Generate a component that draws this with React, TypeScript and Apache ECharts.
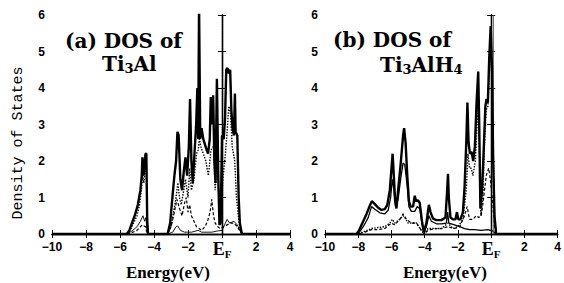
import React, { useEffect, useRef } from "react";
import * as echarts from "echarts";

// ---------- data ----------
const xTicks = [-10, -8, -6, -4, -2, 0, 2, 4];
const yTicks = [0, 1, 2, 3, 4, 5, 6];
const titleA = ["(a) DOS of", "Ti{s|3}Al"];
const titleB = ["(b) DOS of", "Ti{s|3}AlH{s|4}"];
const fermiA = 0;
const fermiB = 0.1;

// (a) Ti3Al
const aTotal: number[][] = [
  [-10, 0], [-5.6, 0], [-5.45, 0.1], [-5.3, 0.3], [-5.1, 0.55], [-4.95, 0.8], [-4.8, 1.2], [-4.72, 1.6],
  [-4.68, 2.1], [-4.62, 1.6], [-4.55, 1.9], [-4.5, 2.2], [-4.45, 2.2], [-4.4, 0.4], [-4.35, 0],
  [-3.2, 0], [-3.05, 0.3], [-2.9, 1.1], [-2.8, 1.6], [-2.7, 2.0], [-2.62, 2.8], [-2.55, 2.7], [-2.45, 1.5],
  [-2.35, 1.2], [-2.25, 1.7], [-2.15, 2.1], [-2.05, 1.6], [-1.95, 2.4], [-1.88, 3.7], [-1.8, 2.0],
  [-1.72, 1.4], [-1.62, 2.2], [-1.52, 3.0], [-1.45, 4.0], [-1.4, 2.6], [-1.35, 6.3], [-1.28, 2.6],
  [-1.2, 2.9], [-1.1, 2.6], [-1.0, 2.45], [-0.9, 2.3], [-0.82, 2.2], [-0.72, 2.6], [-0.66, 3.75],
  [-0.6, 3.0], [-0.52, 3.8], [-0.45, 2.0], [-0.38, 1.4], [-0.3, 4.25], [-0.22, 1.6], [-0.15, 0.25],
  [-0.08, 0.3], [0.0, 2.7], [0.1, 2.6], [0.18, 3.2], [0.25, 4.5], [0.32, 4.55], [0.4, 4.4], [0.48, 4.5],
  [0.55, 3.4], [0.62, 2.9], [0.7, 2.7], [0.76, 3.85], [0.8, 2.8], [0.9, 2.7], [0.98, 1.0], [1.05, 0.3],
  [1.15, 0.05], [1.2, 0], [4, 0],
];
const aDotted: number[][] = [
  [-10, 0], [-5.6, 0], [-5.4, 0.1], [-5.2, 0.3], [-5.0, 0.5], [-4.85, 0.8], [-4.72, 1.3], [-4.68, 1.7],
  [-4.6, 1.4], [-4.5, 1.8], [-4.45, 1.8], [-4.4, 0.3], [-4.35, 0],
  [-3.2, 0], [-3.0, 0.2], [-2.85, 0.6], [-2.7, 1.0], [-2.6, 1.4], [-2.5, 1.0], [-2.4, 0.8], [-2.25, 1.2],
  [-2.15, 1.5], [-2.0, 1.0], [-1.9, 1.8], [-1.8, 1.2], [-1.65, 1.5], [-1.5, 2.2], [-1.4, 2.3],
  [-1.33, 2.6], [-1.25, 2.4], [-1.1, 2.2], [-0.95, 2.0], [-0.8, 1.6], [-0.65, 2.3], [-0.5, 2.4],
  [-0.4, 1.2], [-0.3, 2.0], [-0.2, 1.2], [-0.1, 0.3], [0.05, 1.5], [0.2, 2.2], [0.3, 2.8], [0.4, 3.5],
  [0.5, 3.3], [0.6, 2.4], [0.75, 2.0], [0.85, 1.0], [1.0, 0.3], [1.15, 0], [4, 0],
];
const aDashed: number[][] = [
  [-10, 0], [-5.5, 0], [-5.0, 0.1], [-4.7, 0.25], [-4.5, 0.2], [-4.4, 0],
  [-3.2, 0], [-3.0, 0.2], [-2.8, 0.6], [-2.65, 0.95], [-2.5, 0.7], [-2.35, 0.5], [-2.2, 0.85], [-2.1, 1.0],
  [-2.0, 0.6], [-1.9, 0.8], [-1.8, 0.5], [-1.65, 0.35], [-1.5, 0.2], [-1.35, 0.15], [-1.2, 0.1],
  [-1.0, 0.2], [-0.85, 0.35], [-0.7, 0.6], [-0.6, 0.95], [-0.5, 0.5], [-0.4, 0.3], [-0.25, 0.2],
  [-0.1, 0.15], [0.1, 0.2], [0.3, 0.25], [0.5, 0.3], [0.7, 0.3], [0.9, 0.2], [1.1, 0.05], [1.2, 0], [4, 0],
];
const aThin: number[][] = [
  [-10, 0], [-5.6, 0], [-5.3, 0.08], [-5.0, 0.2], [-4.8, 0.35], [-4.65, 0.5], [-4.55, 0.35], [-4.48, 0.45],
  [-4.4, 0.05], [-4.35, 0],
  [-3.2, 0], [-2.9, 0.05], [-2.7, 0.2], [-2.6, 0.22], [-2.45, 0.1], [-2.2, 0.05], [-1.8, 0.05], [-1.4, 0.1],
  [-1.2, 0.05], [-0.6, 0.05], [-0.3, 0.08], [0.0, 0.1], [0.2, 0.3], [0.3, 0.4], [0.45, 0.3], [0.7, 0.35],
  [0.9, 0.25], [1.1, 0.05], [1.2, 0], [4, 0],
];

// (b) Ti3AlH4
const bTotal: number[][] = [
  [-10, 0], [-8.1, 0], [-7.95, 0.1], [-7.75, 0.3], [-7.5, 0.55], [-7.3, 0.78], [-7.18, 0.9], [-7.0, 0.82],
  [-6.8, 0.72], [-6.6, 0.66], [-6.4, 0.68], [-6.25, 0.8], [-6.1, 1.2], [-6.0, 1.8], [-5.93, 2.2],
  [-5.86, 1.6], [-5.78, 0.9], [-5.7, 0.7], [-5.6, 1.2], [-5.45, 1.9], [-5.3, 2.7], [-5.24, 2.9],
  [-5.15, 2.5], [-5.05, 1.6], [-4.95, 0.9], [-4.85, 0.75], [-4.7, 0.75], [-4.6, 1.05], [-4.52, 0.9],
  [-4.4, 0.92], [-4.3, 0.85], [-4.15, 0.3], [-4.05, 0.05], [-3.9, 0.3], [-3.75, 0.8], [-3.65, 0.6],
  [-3.5, 0.42], [-3.3, 0.38], [-3.0, 0.38], [-2.75, 0.45], [-2.65, 1.2], [-2.6, 1.65], [-2.55, 1.0],
  [-2.45, 0.45], [-2.3, 0.4], [-2.15, 0.4], [-2.06, 0.6], [-1.98, 0.4], [-1.85, 0.4], [-1.7, 0.6],
  [-1.6, 1.3], [-1.5, 2.5], [-1.43, 3.6], [-1.36, 2.5], [-1.28, 2.2], [-1.18, 2.25], [-1.08, 2.0],
  [-0.98, 2.4], [-0.88, 3.6], [-0.78, 4.45], [-0.72, 3.0], [-0.65, 0.7], [-0.55, 1.2], [-0.45, 2.3],
  [-0.35, 3.5], [-0.28, 3.7], [-0.2, 3.6], [-0.12, 4.8], [-0.03, 5.7], [0.05, 4.5], [0.12, 2.0],
  [0.2, 0.5], [0.3, 0], [4, 0],
];
const bSolid: number[][] = [
  [-10, 0], [-8.0, 0], [-7.7, 0.2], [-7.4, 0.45], [-7.2, 0.75], [-7.0, 0.68], [-6.7, 0.58], [-6.4, 0.55],
  [-6.2, 0.65], [-6.05, 1.0], [-5.95, 1.5], [-5.85, 1.2], [-5.75, 0.75], [-5.6, 0.95], [-5.45, 1.5],
  [-5.3, 1.95], [-5.2, 1.9], [-5.05, 1.3], [-4.95, 0.75], [-4.8, 0.62], [-4.6, 0.62], [-4.45, 0.75],
  [-4.3, 0.7], [-4.15, 0.25], [-4.05, 0.05], [-3.9, 0.2], [-3.75, 0.5], [-3.6, 0.35], [-3.3, 0.28],
  [-3.0, 0.28], [-2.7, 0.3], [-2.62, 0.6], [-2.55, 0.3], [-2.2, 0.25], [-1.9, 0.2], [-1.6, 0.15],
  [-1.3, 0.12], [-1.0, 0.12], [-0.6, 0.1], [-0.2, 0.12], [0.1, 0.08], [0.3, 0], [4, 0],
];
const bDotted: number[][] = [
  [-10, 0], [-8, 0], [-7.6, 0.08], [-7.2, 0.15], [-6.8, 0.18], [-6.4, 0.2], [-6.1, 0.3], [-5.95, 0.4],
  [-5.8, 0.3], [-5.5, 0.4], [-5.3, 0.5], [-5.2, 0.45], [-5.0, 0.3], [-4.8, 0.3], [-4.5, 0.3], [-4.2, 0.1],
  [-4.05, 0], [-3.8, 0.15], [-3.5, 0.15], [-3.0, 0.15], [-2.6, 0.3], [-2.3, 0.15], [-2.0, 0.2],
  [-1.7, 0.4], [-1.5, 1.2], [-1.4, 2.2], [-1.3, 1.8], [-1.2, 1.8], [-1.1, 1.6], [-0.95, 2.0], [-0.8, 3.5],
  [-0.7, 2.2], [-0.62, 0.5], [-0.5, 1.0], [-0.4, 2.5], [-0.3, 3.4], [-0.2, 3.5], [-0.1, 4.6],
  [-0.03, 5.6], [0.1, 3.0], [0.2, 0.5], [0.3, 0], [4, 0],
];
const bDashed: number[][] = [
  [-10, 0], [-8, 0], [-7.6, 0.05], [-7.2, 0.12], [-6.8, 0.12], [-6.4, 0.15], [-6.0, 0.3], [-5.8, 0.25],
  [-5.5, 0.4], [-5.3, 0.55], [-5.1, 0.4], [-4.8, 0.3], [-4.5, 0.3], [-4.2, 0.1], [-4.05, 0], [-3.8, 0.1],
  [-3.4, 0.15], [-3.0, 0.15], [-2.6, 0.2], [-2.2, 0.15], [-1.9, 0.2], [-1.6, 0.5], [-1.45, 0.75],
  [-1.3, 0.4], [-1.1, 0.4], [-0.9, 0.5], [-0.75, 0.45], [-0.6, 0.5], [-0.45, 1.0], [-0.3, 1.6],
  [-0.15, 1.8], [-0.05, 1.5], [0.1, 0.8], [0.2, 0.2], [0.3, 0], [4, 0],
];

const SANS = "Liberation Sans";
const SERIF_T = "DejaVu Serif";
const SERIF_L = "Liberation Serif";
const MONO = "Liberation Mono";

function xLabel(v: number) {
  if (v === 0) return "{e|E}{f|F}";
  if (v < 0) return "\u2212" + Math.abs(v);
  return String(v);
}

function makeAxes(grid: number, showYLabel: boolean) {
  const common = {
    axisLine: { show: true, lineStyle: { color: "#000", width: 1.3 } },
    axisTick: { show: true, inside: true, length: 4, lineStyle: { color: "#000", width: 1 } },
    splitLine: { show: false },
  };
  const x = [
    {
      type: "value", gridIndex: grid, position: "bottom", min: xTicks[0], max: xTicks[xTicks.length - 1],
      interval: 2, ...common,
      axisLabel: {
        show: true, margin: 7, color: "#000", fontFamily: SANS, fontWeight: "bold", fontSize: 12,
        formatter: xLabel,
        rich: {
          e: { fontFamily: SERIF_L, fontSize: 18, color: "#000", lineHeight: 16 },
          f: { fontFamily: SERIF_L, fontSize: 11, color: "#000", lineHeight: 16, padding: [9, 0, 0, 0] },
        },
      },
    },
    {
      type: "value", gridIndex: grid, position: "top", min: xTicks[0], max: xTicks[xTicks.length - 1],
      interval: 2, ...common, axisLabel: { show: false },
    },
  ];
  const y = [
    {
      type: "value", gridIndex: grid, position: "left", min: yTicks[0], max: yTicks[yTicks.length - 1],
      interval: 1, ...common,
      axisLabel: { show: showYLabel, margin: 7, color: "#000", fontFamily: SANS, fontWeight: "bold", fontSize: 12 },
    },
    {
      type: "value", gridIndex: grid, position: "right", min: yTicks[0], max: yTicks[yTicks.length - 1],
      interval: 1, ...common, axisLabel: { show: false },
    },
  ];
  return { x, y };
}

function line(name: string, data: number[][], xi: number, yi: number, style: any, z = 2) {
  return {
    name, type: "line", data, xAxisIndex: xi, yAxisIndex: yi, showSymbol: false, symbol: "none",
    smooth: false, z, clip: true, lineStyle: { color: "#000", ...style }, silent: true,
  };
}

export default function App() {
  const ref = useRef<HTMLDivElement>(null);
  useEffect(() => {
    if (!ref.current) return;
    const chart = echarts.init(ref.current, null, { renderer: "svg" });
    const a = makeAxes(0, true);
    const b = makeAxes(1, true);
    const fermiLine = (xv: number, style: any) => ({
      silent: true, symbol: ["none", "none"], label: { show: false },
      lineStyle: { color: "#000", ...style }, data: [{ xAxis: xv }],
    });
    const totA: any = line("Total (a)", aTotal, 0, 0, { width: 2.4 }, 5);
    totA.markLine = fermiLine(fermiA, { type: "dotted", width: 1.2 });
    const totB: any = line("Total (b)", bTotal, 2, 2, { width: 2.4 }, 5);
    totB.markLine = fermiLine(fermiB, { type: "solid", width: 0.8, color: "#555" });
    const titleRich = {
      n: { fontFamily: SERIF_T, fontWeight: "bold", fontSize: 20, color: "#000", lineHeight: 24 },
      s: { fontFamily: SERIF_T, fontWeight: "bold", fontSize: 13, color: "#000", lineHeight: 24, padding: [8, 0, 0, 0] },
    };
    const titleText = (x: number, y: number, text: string) => ({
      type: "text", x, y,
      style: {
        text: text.replace(/^([^{]+)/, "{n|$1}").replace(/\}([^{]+)/g, "}{n|$1}"),
        rich: titleRich, align: "left", verticalAlign: "middle",
      },
    });
    const plain = (x: number, y: number, text: string, family: string, size: number, weight: string, rot = 0) => ({
      type: "text", x, y, rotation: rot,
      style: { text, fontFamily: family, fontSize: size, fontWeight: weight, fill: "#000", align: "center", verticalAlign: "middle" },
    });
    chart.setOption({
      animation: false,
      backgroundColor: "#fff",
      grid: [
        { left: 52, right: 274, top: 15, bottom: 49, containLabel: false },
        { left: 325, right: 1, top: 15, bottom: 49, containLabel: false },
      ],
      xAxis: [...a.x, ...b.x],
      yAxis: [...a.y, ...b.y],
      series: [
        line("Thin (a)", aThin, 0, 0, { width: 0.9 }),
        line("Dashed (a)", aDashed, 0, 0, { width: 1.2, type: [3, 2] }),
        line("Dotted (a)", aDotted, 0, 0, { width: 1.4, type: "dotted" }, 3),
        totA,
        line("Dashed (b)", bDashed, 2, 2, { width: 1.2, type: [3, 2] }),
        line("Dotted (b)", bDotted, 2, 2, { width: 1.4, type: "dotted" }, 3),
        line("Solid (b)", bSolid, 2, 2, { width: 1.3 }, 4),
        totB,
      ],
      graphic: [
        titleText(65, 41, titleA[0]),
        titleText(102, 64, titleA[1]),
        titleText(333, 40, titleB[0]),
        titleText(380, 65, titleB[1]),
        plain(168, 272, "Energy(eV)", SERIF_L, 17, "bold"),
        plain(445, 272, "Energy(eV)", SERIF_L, 17, "bold"),
        plain(18, 143, "Density of States", MONO, 15, "normal", Math.PI / 2),
      ],
    });
    return () => chart.dispose();
  }, []);
  return <div ref={ref} style={{ width: 564, height: 283, position: "absolute", left: 0, top: 0 }} />;
}
